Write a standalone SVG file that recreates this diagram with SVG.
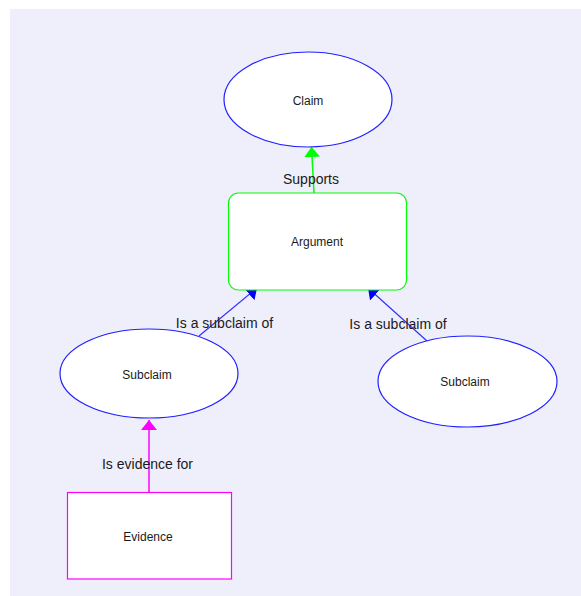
<svg xmlns="http://www.w3.org/2000/svg" width="581" height="596" viewBox="0 0 581 596">
  <style>
    .canvas { fill: #efeffc; }
    .claim { fill: #ffffff; stroke: #2020ff; stroke-width: 1.2; }
    .arg { fill: #ffffff; stroke: #00ff00; stroke-width: 1.2; }
    .evid { fill: #ffffff; stroke: #ff00ff; stroke-width: 1.2; }
    .node-label { font-family: "Liberation Sans", Arial, sans-serif; font-size: 12px; fill: #1a1a1a; text-anchor: middle; }
    .edge-label { font-family: "Liberation Sans", Arial, sans-serif; font-size: 14px; fill: #1a1a1a; text-anchor: middle; }
    .e-blue { stroke: #3030ff; stroke-width: 1.2; fill: none; }
    .e-green { stroke: #00ff00; stroke-width: 1.5; fill: none; }
    .e-pink { stroke: #ff00ff; stroke-width: 1.5; fill: none; }
  </style>
  <defs>
    <marker id="head-blue" markerUnits="userSpaceOnUse" viewBox="0 -8 10 16" refX="10" refY="0" markerWidth="10" markerHeight="16" orient="auto">
      <path d="M0,-8 L10,0 L0,8 z" fill="#0000ff"/>
    </marker>
    <marker id="head-green" markerUnits="userSpaceOnUse" viewBox="0 -8 10 16" refX="10" refY="0" markerWidth="10" markerHeight="16" orient="auto">
      <path d="M0,-8 L10,0 L0,8 z" fill="#00ff00"/>
    </marker>
    <marker id="head-pink" markerUnits="userSpaceOnUse" viewBox="0 -8 10 16" refX="10" refY="0" markerWidth="10" markerHeight="16" orient="auto">
      <path d="M0,-8 L10,0 L0,8 z" fill="#ff00ff"/>
    </marker>
  </defs>

  <rect class="canvas" x="10" y="9" width="571" height="587"/>

  <g id="connectors">
    <line class="e-green" x1="314" y1="193" x2="311.5" y2="147" marker-end="url(#head-green)"/>
    <text class="edge-label" x="311" y="184">Supports</text>

    <line class="e-blue" x1="199" y1="336" x2="257" y2="288" marker-end="url(#head-blue)"/>
    <text class="edge-label" x="224.5" y="328">Is a subclaim of</text>

    <line class="e-blue" x1="427" y1="341" x2="368" y2="288" marker-end="url(#head-blue)"/>
    <text class="edge-label" x="398" y="329">Is a subclaim of</text>

    <line class="e-pink" x1="149" y1="492" x2="149" y2="420" marker-end="url(#head-pink)"/>
    <text class="edge-label" x="147.5" y="469">Is evidence for</text>
  </g>

  <g id="claim">
    <ellipse class="claim" cx="308" cy="99.5" rx="84" ry="47.5"/>
    <text class="node-label" x="308" y="105">Claim</text>
  </g>

  <g id="argument">
    <rect class="arg" x="228.5" y="193" width="178" height="97" rx="10" ry="10"/>
    <text class="node-label" x="317" y="246">Argument</text>
  </g>

  <g id="subclaim-left">
    <ellipse class="claim" cx="149" cy="373.5" rx="89" ry="44.5"/>
    <text class="node-label" x="147" y="379">Subclaim</text>
  </g>

  <g id="subclaim-right">
    <ellipse class="claim" cx="467.5" cy="381.5" rx="89.5" ry="45.5"/>
    <text class="node-label" x="465" y="386">Subclaim</text>
  </g>

  <g id="evidence">
    <rect class="evid" x="67.5" y="492.5" width="164" height="86.5"/>
    <text class="node-label" x="148" y="541">Evidence</text>
  </g>
</svg>
